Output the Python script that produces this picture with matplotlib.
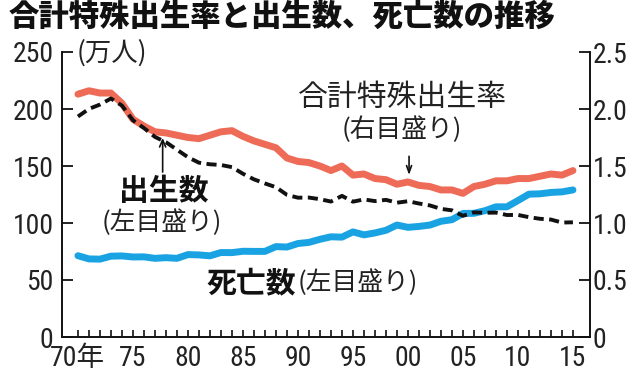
import matplotlib
matplotlib.use("Agg")
import matplotlib.pyplot as plt
from matplotlib import font_manager as fm

years = list(range(1970, 2016))
births = [193.4, 200.1, 203.9, 209.2, 203.0, 190.1, 183.3, 175.5, 170.9, 164.3,
          157.7, 152.9, 151.5, 150.9, 149.0, 143.2, 138.3, 134.7, 131.4, 124.7,
          122.2, 122.3, 120.9, 118.8, 123.8, 118.7, 120.7, 119.2, 120.3, 117.8,
          119.1, 117.1, 115.4, 112.4, 111.1, 106.3, 109.3, 109.0, 109.1, 107.0,
          107.1, 105.1, 103.7, 103.0, 100.4, 100.6]
deaths = [71.3, 68.5, 68.3, 70.9, 71.1, 70.2, 70.3, 69.0, 69.6, 69.0,
          72.3, 72.0, 71.2, 74.1, 74.0, 75.2, 75.1, 75.1, 79.3, 78.9,
          82.0, 83.0, 85.7, 87.9, 87.6, 92.2, 89.6, 91.3, 93.6, 98.2,
          96.2, 97.0, 98.2, 101.5, 102.9, 108.4, 108.5, 110.8, 114.2, 114.2,
          119.7, 125.3, 125.6, 126.8, 127.3, 129.0]
tfr = [2.13, 2.16, 2.14, 2.14, 2.05, 1.91, 1.85, 1.80, 1.79, 1.77,
       1.75, 1.74, 1.77, 1.80, 1.81, 1.76, 1.72, 1.69, 1.66, 1.57,
       1.54, 1.53, 1.50, 1.46, 1.50, 1.42, 1.43, 1.39, 1.38, 1.34,
       1.36, 1.33, 1.32, 1.29, 1.29, 1.26, 1.32, 1.34, 1.37, 1.37,
       1.39, 1.39, 1.41, 1.43, 1.42, 1.46]

left_ticks = [0, 50, 100, 150, 200, 250]
right_ticks = [0, 0.5, 1.0, 1.5, 2.0, 2.5]
right_labels = ["0", "0.5", "1.0", "1.5", "2.0", "2.5"]
x_label_years = [1970, 1975, 1980, 1985, 1990, 1995, 2000, 2005, 2010, 2015]
x_labels = ["70年", "75", "80", "85", "90", "95", "00", "05", "10", "15"]

title = "合計特殊出生率と出生数、死亡数の推移"

# ---- pick a narrow font for the numbers if one is installed ----
names = {f.name for f in fm.fontManager.ttflist}
num_font, num_stretch = "Liberation Sans", "normal"
for n in ["Roboto Condensed", "Liberation Sans Narrow", "Open Sans Condensed", "Arial Narrow"]:
    if n in names:
        num_font = n
        break

JP = "Noto Sans CJK JP"
num_fam = [num_font, JP, "DejaVu Sans"]
jp_fam = [JP, "DejaVu Sans"]

RED = "#EE6B57"
BLUE = "#1AA3E3"
TXT = "#222222"
INK = "#111111"

fig = plt.figure(figsize=(6.38, 3.73), dpi=100)
ax = fig.add_axes([62/638, 1-337/373, (590-62)/638, (337-52)/373])
ax2 = ax.twinx()

ax.set_xlim(1968.55, 2016.55)
ax.set_ylim(0, 250)
ax2.set_ylim(0, 2.5)

ax.plot(years, deaths, color=BLUE, lw=5.0, solid_capstyle="round", solid_joinstyle="round", zorder=2)
ax2.plot(years, tfr, color=RED, lw=5.0, solid_capstyle="round", solid_joinstyle="round", zorder=3)
ax2.plot(years, [b / 100 for b in births], color=INK, lw=2.8, dashes=(2.6, 1.4), zorder=4)

for a in (ax, ax2):
    a.spines["top"].set_visible(False)
    for s in a.spines.values():
        s.set_linewidth(1.4)
        s.set_color(INK)
ax.spines["right"].set_visible(False)
ax2.spines["left"].set_visible(False)
ax2.spines["bottom"].set_visible(False)

base_size = 20
nkw = dict(family=num_fam, fontsize=base_size, color=TXT)

ax.set_yticks(left_ticks)
ax.set_yticklabels([str(v) for v in left_ticks], **nkw)
ax.tick_params(axis="y", direction="in", length=8, width=1.3, pad=6, colors=INK, labelcolor=TXT)

ax2.set_yticks(right_ticks)
ax2.set_yticklabels(right_labels, **nkw)
ax2.tick_params(axis="y", direction="in", length=8, width=1.3, pad=2, colors=INK, labelcolor=TXT)

ax.set_xticks(years)
ax.set_xticklabels([x_labels[x_label_years.index(y)] if y in x_label_years else "" for y in years], **nkw)
ax.tick_params(axis="x", direction="in", length=5, width=1.2, pad=6, colors=INK, labelcolor=TXT)

# fit the number size to the reference: "250" about 41 px wide
fig.canvas.draw()
r = fig.canvas.get_renderer()
lab250 = [t for t in ax.get_yticklabels() if t.get_text() == "250"][0]
w = lab250.get_window_extent(r).width
size = min(base_size * 41.0 / w, 21.0)
for t in ax.get_yticklabels() + ax2.get_yticklabels() + ax.get_xticklabels():
    t.set_fontsize(size)

# title
fig.text(9/638, 1-1/373, title, family=jp_fam, fontsize=21.9, fontweight="heavy",
         color=INK, ha="left", va="top")

# annotations
ax.text(1969.9, 249, "(万人)", family=jp_fam, fontsize=19, color=TXT, ha="left", va="center")
ax.text(1999.5, 210.5, "合計特殊出生率", family=jp_fam, fontsize=21.5, color=TXT, ha="center", va="center")
ax.text(1999.4, 181.6, "(右目盛り)", family=jp_fam, fontsize=18.5, color=TXT, ha="center", va="center")
ax.annotate("", xy=(2000.1, 142.1), xytext=(2000.1, 158.5),
            arrowprops=dict(arrowstyle="->,head_length=0.5,head_width=0.18", color=INK, lw=1.2,
                            shrinkA=0, shrinkB=0))

ax.text(1977.8, 128, "出生数", family=jp_fam, fontsize=21.5, fontweight="bold", color=INK,
        ha="center", va="center")
ax.text(1977.6, 100, "(左目盛り)", family=jp_fam, fontsize=18.5, color=TXT, ha="center", va="center")
ax.annotate("", xy=(1977.7, 174.6), xytext=(1977.7, 144.7),
            arrowprops=dict(arrowstyle="->,head_length=0.5,head_width=0.22", color=INK, lw=1.2,
                            shrinkA=0, shrinkB=0))

ax.text(1981.7, 47.4, "死亡数", family=jp_fam, fontsize=21.5, fontweight="bold", color=INK,
        ha="left", va="center")
ax.text(1990.0, 47.4, "(左目盛り)", family=jp_fam, fontsize=18.5, color=TXT, ha="left", va="center")

fig.savefig("out.png", dpi=100)
